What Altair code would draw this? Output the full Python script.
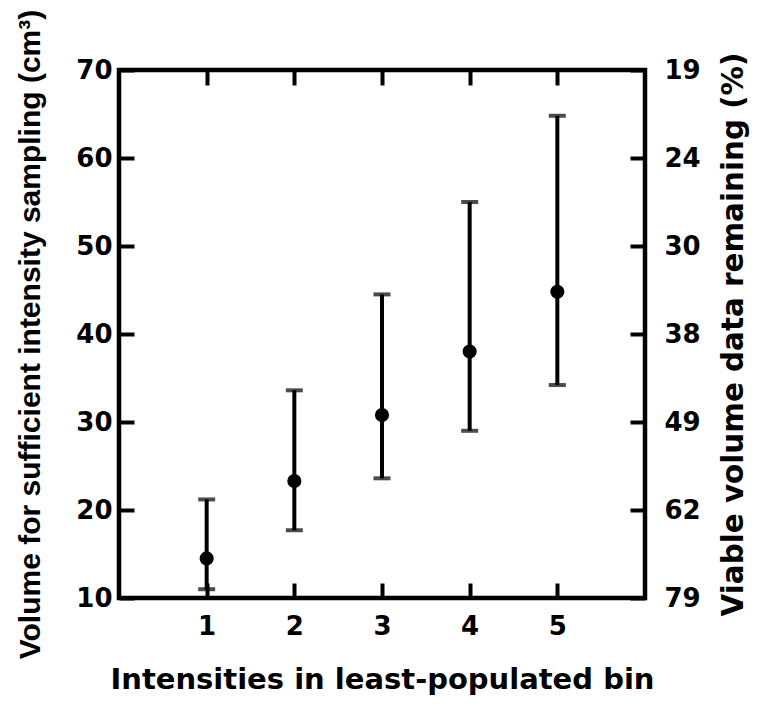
import altair as alt
import pandas as pd

# Data
x_vals = [1, 2, 3, 4, 5]
y_mean = [14.5, 23.3, 30.8, 38.0, 44.8]
y_low = [11.0, 17.7, 23.6, 29.0, 34.2]
y_high = [21.2, 33.6, 44.5, 55.0, 64.8]

left_ticks = [10, 20, 30, 40, 50, 60, 70]
right_labels = ["79", "62", "49", "38", "30", "24", "19"]
x_ticks = [1, 2, 3, 4, 5]

df = pd.DataFrame({"x": x_vals, "y": y_mean, "lo": y_low, "hi": y_high})

label_expr = " : ".join(
    f"datum.value == {v} ? '{lab}'" for v, lab in zip(left_ticks, right_labels)
) + " : ''"

LABEL_FONT = "DejaVu Sans"
TITLE_FONT = "Liberation Sans"
xscale = alt.Scale(domain=[0, 6], nice=False, zero=False)
yscale = alt.Scale(domain=[10, 70], nice=False, zero=False)

common_axis = dict(
    grid=False, domain=False, tickSize=alt.ExprRef(expr="-15"), tickWidth=4,
    tickColor="black", labelFont=LABEL_FONT, labelFontSize=26, labelFontWeight="bold",
    labelColor="black", titleFontWeight="bold", titleColor="black",
)

base = alt.Chart(df)

rules = base.mark_rule(color="black", strokeWidth=4).encode(
    x=alt.X("x:Q", scale=xscale,
            axis=alt.Axis(orient="bottom", values=x_ticks, format="d",
                          title="Intensities in least-populated bin",
                          titleFont=LABEL_FONT, titleFontSize=29,
                          labelPadding=30, titlePadding=26,
                          **common_axis)),
    y=alt.Y("lo:Q", scale=yscale,
            axis=alt.Axis(orient="left", values=left_ticks, format="d",
                          title="Volume for sufficient intensity sampling (cm³)",
                          titleFont=TITLE_FONT, titleFontSize=30,
                          labelPadding=22, titlePadding=30,
                          **common_axis)),
    y2="hi:Q",
)

caps_lo = base.mark_tick(color="black", orient="horizontal", size=17, thickness=4).encode(
    x=alt.X("x:Q", scale=xscale, axis=None),
    y=alt.Y("lo:Q", scale=yscale, axis=None),
)
caps_hi = base.mark_tick(color="black", orient="horizontal", size=17, thickness=4).encode(
    x=alt.X("x:Q", scale=xscale, axis=None),
    y=alt.Y("hi:Q", scale=yscale, axis=None),
)

points = base.mark_circle(color="black", opacity=1, size=200).encode(
    x=alt.X("x:Q", scale=xscale,
            axis=alt.Axis(orient="top", values=x_ticks, labels=False, title=None,
                          **common_axis)),
    y=alt.Y("y:Q", scale=yscale,
            axis=alt.Axis(orient="right", values=left_ticks, labelExpr=label_expr,
                          title="Viable volume data remaining (%)",
                          titleFont=LABEL_FONT, titleAngle=270, titleBaseline="top",
                          titleFontSize=29.4, labelPadding=34, titlePadding=19,
                          **common_axis)),
)

chart = alt.layer(rules, caps_lo, caps_hi, points).resolve_axis(
    x="independent", y="independent"
).properties(
    width=526, height=528,
    autosize=alt.AutoSizeParams(type="none"),
    padding={"left": 111, "top": 62, "right": 111, "bottom": 102},
    background="white",
).configure_view(stroke="black", strokeWidth=4.5)

chart.save("out.html", embed_options={"renderer": "svg", "actions": False})
